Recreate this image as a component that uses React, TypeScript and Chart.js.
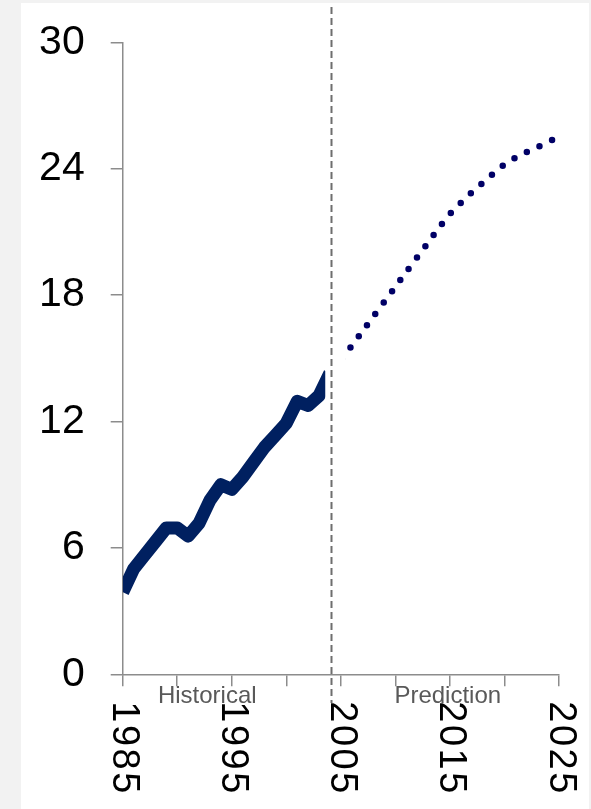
import React, { useEffect, useRef } from "react";
import { Chart, registerables } from "chart.js";

Chart.register(...registerables);

// ---- data ----
const histYears = [1985, 1986, 1987, 1988, 1989, 1990, 1991, 1992, 1993, 1994, 1995, 1996, 1997, 1998, 1999, 2000, 2001, 2002, 2003, 2004];
const histValues = [3.9, 5.0, 5.65, 6.3, 6.95, 6.95, 6.56, 7.17, 8.26, 9.0, 8.78, 9.36, 10.07, 10.78, 11.34, 11.92, 12.96, 12.76, 13.23, 14.3];
const predYears = [2005, 2006, 2007, 2008, 2009, 2010, 2011, 2012, 2013, 2014, 2015, 2016, 2017, 2018, 2019, 2020, 2021, 2022, 2023, 2024, 2025];
const predValues = [14.9, 15.6, 16.3, 17.0, 17.7, 18.4, 19.1, 19.8, 20.5, 21.2, 21.85, 22.38, 22.88, 23.33, 23.78, 24.2, 24.52, 24.78, 25.02, 25.28, 25.52];
const xTickLabels = [1985, 1995, 2005, 2015, 2025];
const yTicks = [0, 6, 12, 18, 24, 30];
const periodLabels = ["Historical", "Prediction"];
const periodLabelYears = [1992.75, 2014.8];

// ---- styling constants (data units) ----
const DIVIDER_YEAR = 2004.1;
const HIST_CLIP_END = 2003.57;
const PRED_CLIP_START = 2005.45;

const FONT = "'Liberation Sans', Arial, Helvetica, sans-serif";
const AXIS_COLOR = "#8c8c8c";

const clipPlugin = {
  id: "segClip",
  beforeDatasetDraw(chart: any, args: any) {
    const { ctx, chartArea, scales } = chart;
    const x = scales.x;
    ctx.save();
    ctx.beginPath();
    if (args.index === 0) {
      const r = x.getPixelForValue(HIST_CLIP_END);
      ctx.rect(chartArea.left, 0, r - chartArea.left, chart.height);
    } else {
      const l = x.getPixelForValue(PRED_CLIP_START);
      ctx.rect(l, 0, chart.width - l, chart.height);
    }
    ctx.clip();
  },
  afterDatasetDraw(chart: any) {
    chart.ctx.restore();
  },
};

const overlayPlugin = {
  id: "overlay",
  afterDraw(chart: any) {
    const { ctx, scales } = chart;
    const x = scales.x;
    const y0 = scales.y.getPixelForValue(0);

    // period labels
    ctx.save();
    ctx.font = `24px ${FONT}`;
    ctx.fillStyle = "#595959";
    ctx.textAlign = "center";
    ctx.textBaseline = "alphabetic";
    periodLabels.forEach((t, i) => {
      ctx.fillText(t, x.getPixelForValue(periodLabelYears[i]), y0 + 29);
    });
    ctx.restore();

    // rotated x tick labels (reading top to bottom)
    ctx.save();
    ctx.font = `38px ${FONT}`;
    ctx.fillStyle = "#000000";
    (ctx as any).letterSpacing = "2.5px";
    ctx.textAlign = "left";
    ctx.textBaseline = "middle";
    xTickLabels.forEach((yr) => {
      const px = x.getPixelForValue(yr);
      ctx.save();
      ctx.translate(px + 1, y0 + 27);
      ctx.rotate(Math.PI / 2);
      ctx.fillText(String(yr), 0, 0);
      ctx.restore();
    });
    ctx.restore();

    // dashed divider
    const dx = Math.round(x.getPixelForValue(DIVIDER_YEAR)) + 0.5;
    ctx.save();
    ctx.strokeStyle = "#6e6e6e";
    ctx.lineWidth = 2;
    ctx.setLineDash([7, 4]);
    ctx.beginPath();
    ctx.moveTo(dx, 7);
    ctx.lineTo(dx, 703);
    ctx.stroke();
    ctx.restore();
  },
};

export default function App() {
  const ref = useRef<HTMLCanvasElement | null>(null);

  useEffect(() => {
    if (!ref.current) return;
    const chart = new Chart(ref.current, {
      type: "line",
      data: {
        datasets: [
          {
            label: "Historical",
            data: histYears.map((yr, i) => ({ x: yr, y: histValues[i] })),
            borderColor: "#002060",
            backgroundColor: "#002060",
            borderWidth: 13,
            borderJoinStyle: "round",
            borderCapStyle: "butt",
            pointRadius: 0,
            tension: 0,
            fill: false,
          },
          {
            label: "Prediction",
            data: predYears.map((yr, i) => ({ x: yr, y: predValues[i] })),
            borderColor: "#000066",
            backgroundColor: "#000066",
            borderWidth: 6.5,
            borderDash: [0, 14],
            borderDashOffset: 12,
            borderCapStyle: "round",
            pointRadius: 0,
            tension: 0.3,
            fill: false,
          },
        ],
      },
      options: {
        animation: false,
        responsive: false,
        devicePixelRatio: 1,
        layout: { padding: { top: 41, right: 32, left: 0, bottom: 0 } },
        plugins: {
          legend: { display: false },
          tooltip: { enabled: false },
        },
        scales: {
          x: {
            type: "linear",
            min: 1985,
            max: 2025,
            ticks: {
              stepSize: 5,
              autoSkip: false,
              maxRotation: 0,
              color: "rgba(0,0,0,0)",
              font: { size: 10 },
            },
            grid: {
              drawOnChartArea: false,
              drawTicks: true,
              tickLength: 12,
              color: AXIS_COLOR,
              lineWidth: 1.5,
            },
            border: { display: true, color: AXIS_COLOR, width: 1.5 },
            afterFit: (s: any) => {
              s.height = 809 - 674.3;
            },
          },
          y: {
            type: "linear",
            min: 0,
            max: 30,
            afterBuildTicks: (s: any) => {
              s.ticks = yTicks.map((v) => ({ value: v }));
            },
            ticks: {
              color: "#000000",
              font: { size: 41, family: FONT, lineHeight: 0.8 },
              padding: 26,
            },
            grid: {
              drawOnChartArea: false,
              drawTicks: true,
              tickLength: 12,
              color: AXIS_COLOR,
              lineWidth: 1.5,
            },
            border: { display: true, color: AXIS_COLOR, width: 1.5 },
            afterFit: (s: any) => {
              s.width = 122.7;
            },
          },
        },
      },
      plugins: [clipPlugin, overlayPlugin],
    });
    return () => chart.destroy();
  }, []);

  return (
    <div style={{ position: "fixed", left: 0, top: 0, width: 591, height: 809, background: "#f2f2f2", overflow: "hidden" }}>
      <div style={{ position: "absolute", left: 21, top: 3, width: 568, height: 806, background: "#ffffff" }} />
      <canvas ref={ref} width={591} height={809} style={{ position: "absolute", left: 0, top: 0, width: 591, height: 809 }} />
    </div>
  );
}
